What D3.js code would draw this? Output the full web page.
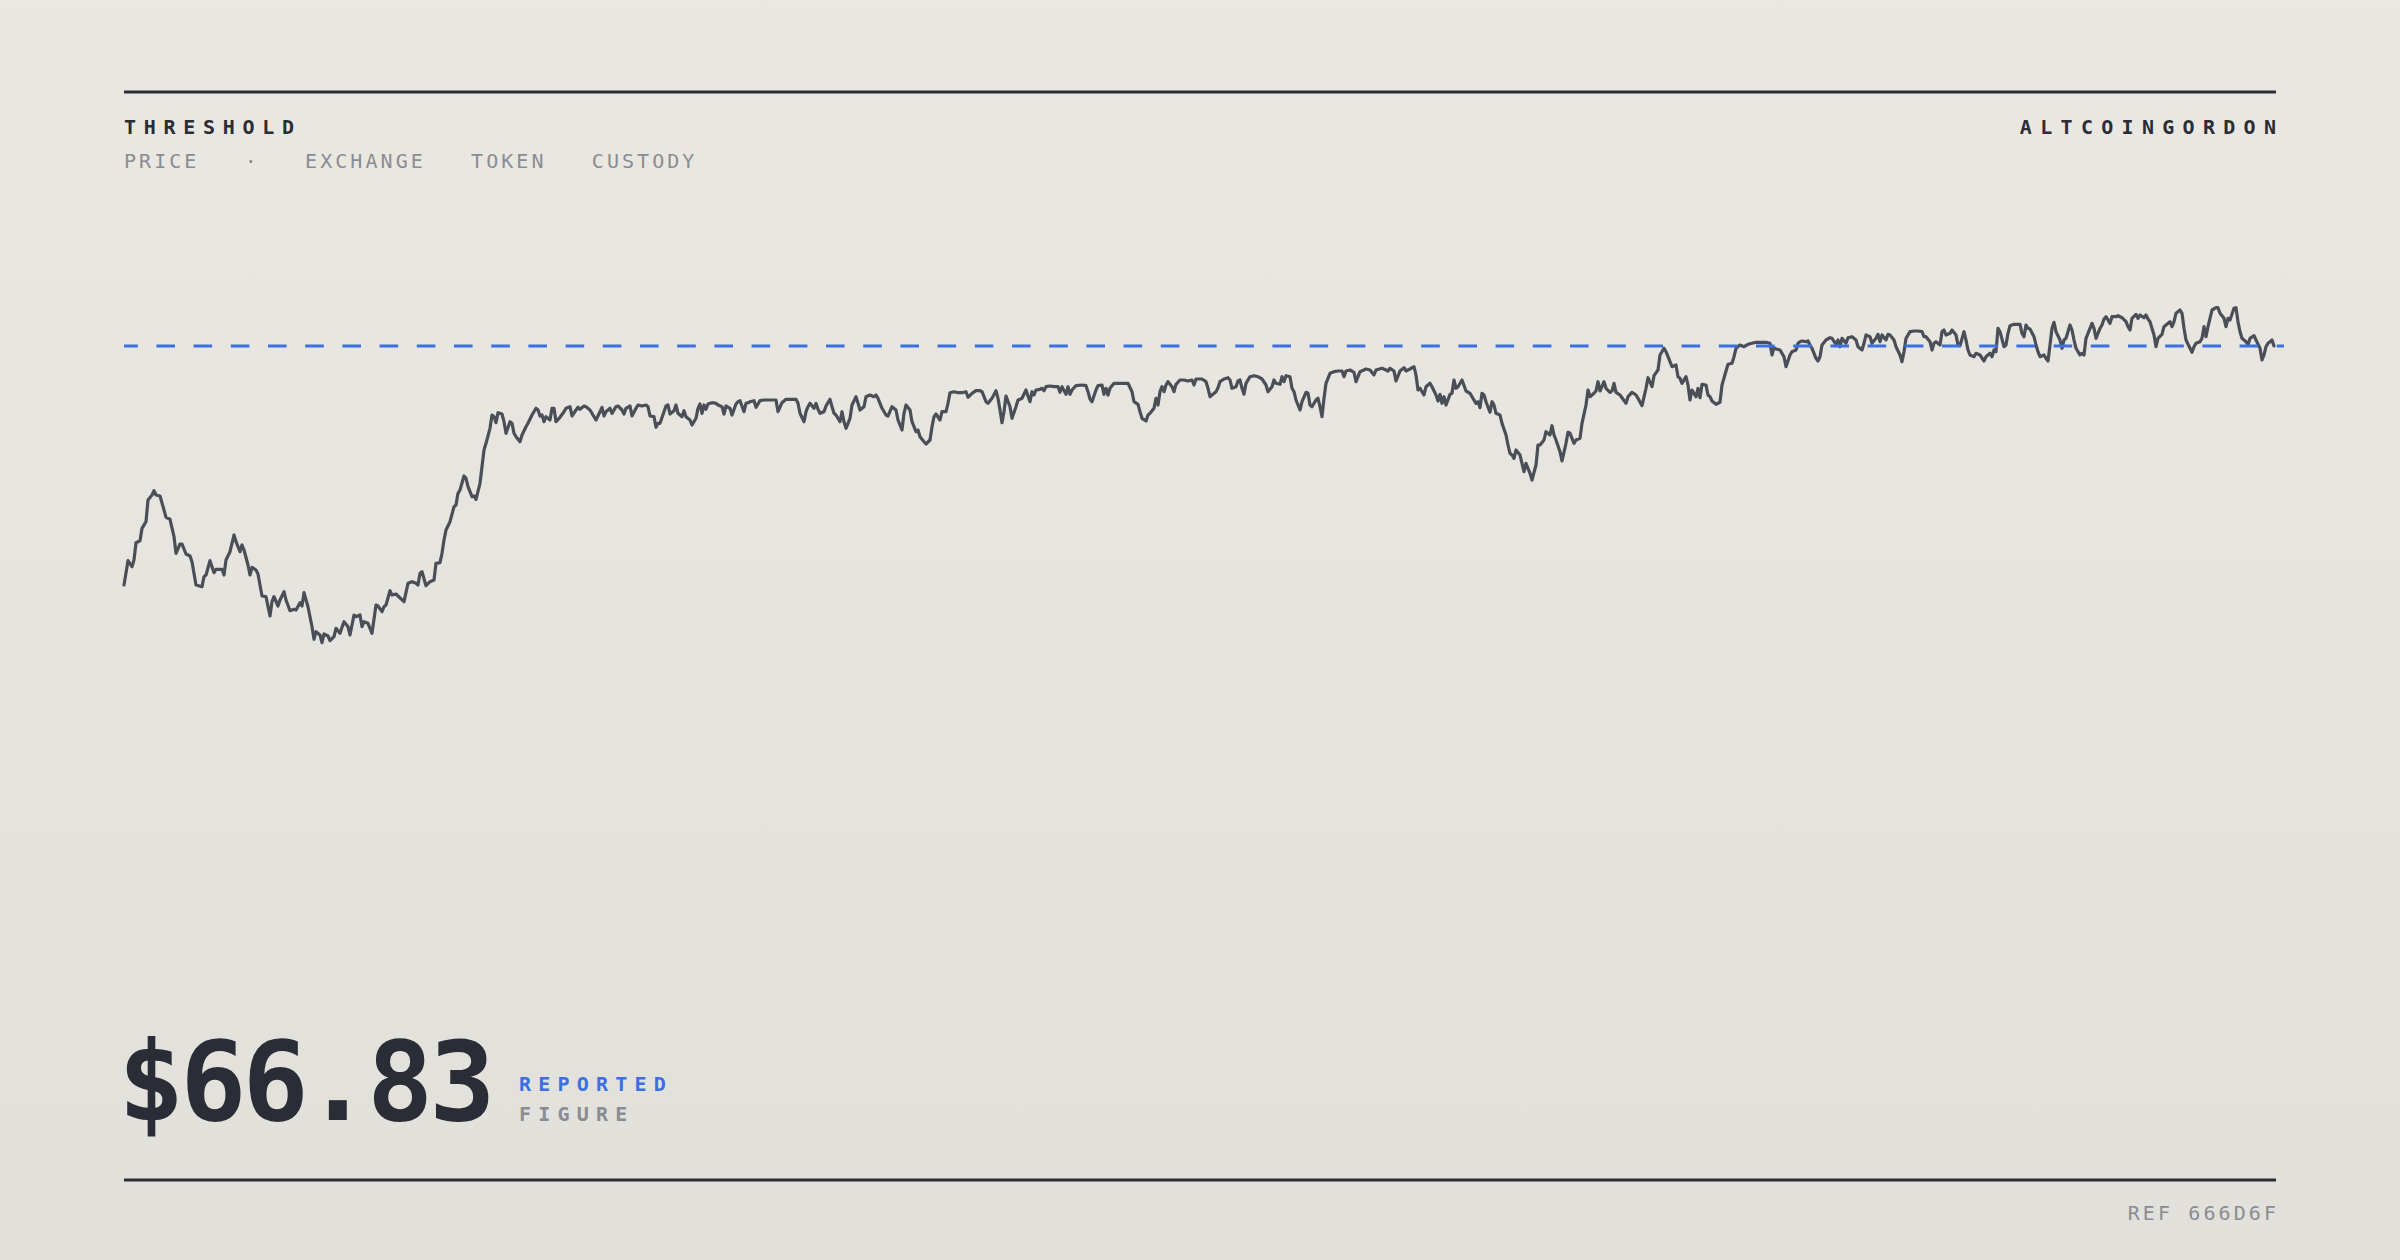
<!DOCTYPE html>
<html>
<head>
<meta charset="utf-8">
<script src="https://cdn.jsdelivr.net/npm/d3@7/dist/d3.min.js"></script>
<style>
  html, body { margin: 0; padding: 0; background: #e6e4de; }
  svg { display: block; }
</style>
</head>
<body>
<svg id="chart" width="2400" height="1260"></svg>
<script>
// header / footer text
const title = "THRESHOLD";
const brand = "ALTCOINGORDON";
const tags = ["PRICE", "·", "EXCHANGE", "TOKEN", "CUSTODY"];
const figureLabels = ["REPORTED", "FIGURE"];
const refCode = "REF 666D6F";

// trading day index of each reading
const days = [
  0,2,4,5,6,8,9,11,12,14,15,16,18,20,21,23,25,26,28,29,31,33,34,36,39,40,41,43,44,45,46,49,50,51,53,55,56,58,59,60,
  62,63,64,66,67,69,71,73,74,75,77,78,80,81,83,85,86,88,89,90,92,94,95,96,98,99,100,102,103,105,106,108,109,110,112,113,115,116,118,119,
  120,122,124,126,127,129,130,131,133,134,136,137,140,142,144,146,147,148,149,151,153,155,
  156,158,159,160,161,163,165,166,167,168,170,171,172,174,175,176,178,179,180,181,183,184,185,186,187,189,190,191,193,194,195,196,198,199,201,202,
  204,206,207,208,209,210,211,213,214,215,216,218,220,221,223,224,226,227,228,230,231,233,235,236,238,239,240,241,243,244,246,247,249,250,251,253,254,256,257,259,
  261,262,263,265,266,267,268,270,271,272,273,275,276,277,279,280,281,283,284,286,287,288,289,290,291,292,294,296,297,299,300,301,303,304,306,307,
  308,310,311,312,313,315,316,318,320,322,325,326,327,329,331,333,336,337,338,340,341,342,343,345,346,347,348,350,351,353,354,355,356,358,359,360,361,363,364,366,
  367,368,370,371,373,375,376,377,379,381,382,384,386,387,389,390,391,393,394,396,397,398,400,401,403,404,405,406,408,409,411,412,413,415,417,419,421,422,424,426,
  428,429,431,432,434,436,437,438,439,440,441,443,444,446,447,448,449,451,452,453,454,455,456,458,459,460,461,463,
  465,467,468,469,471,472,473,474,476,479,481,482,483,484,486,487,489,490,491,492,493,495,497,500,502,504,505,507,508,509,511,512,513,515,516,517,518,519,520,521,
  522,524,525,526,528,530,532,534,535,536,539,541,542,543,544,546,547,548,550,552,553,554,556,557,558,559,560,561,563,565,567,569,571,572,574,575,576,578,579,580,
  581,583,584,585,586,588,589,591,592,593,594,596,597,598,599,600,601,603,605,607,609,610,611,613,615,616,617,
  618,621,623,625,626,629,631,632,633,635,636,638,640,641,643,645,646,647,648,650,651,653,654,656,657,658,659,660,661,663,664,665,666,667,669,671,673,674,676,677,
  678,679,680,681,683,684,685,686,688,689,691,692,693,694,695,696,698,699,700,701,703,704,706,707,708,710,711,713,714,715,716,718,719,721,722,723,725,726,728,729,
  731,732,733,735,736,737,738,740,741,743,744,745,746,748,749,751,752,754,756,757,759,761,762,764,765,767,
  768,770,771,773,774,776,777,778,779,781,782,783,784,786,787,788,789,791,792,793,794,796,798,799,801,802,804,805,806,808,810,812,814,816,819,821,823,824,825,826,
  828,829,830,831,833,834,836,837,838,839,841,842,843,844,846,847,848,849,851,853,854,856,857,858,859,861,862,864,866,867,869,870,871,873,874,876,877,878,879,881,
  882,883,885,886,888,889,890,891,893,895,897,899,900,901,903,904,905,906,908,909,910,911,913,914,916,917,918,920,921,922,
  923,925,926,928,930,931,933,934,935,936,937,938,940,941,942,943,945,946,948,949,950,951,952,953,955,956,957,958,960,961,962,963,964,965,966,968,969,970,971,973,
  974,975,976,978,979,980,981,983,984,985,986,988,989,990,991,993,994,996,997,999,1001,1002,1003,1004,1006,1007,1008,1010,1011,1012,1013,1015,1016,1017,1019,1020,1021,1023,1024,1025,
  1026,1028,1029,1030,1031,1033,1034,1035,1036,1038,1039,1040,1041,1042,1043,1044,1046,1047,1048,1050,1051,1052,1053,1055,1056,1057,1058,1059,1061,1062,1063,1065,1066,1068,1069,1070,1071,1072,1073,1074,
  1075
];

// closing price (USD) for each reading
const closes = [
  42.93,45.36,44.76,45.43,47.16,47.36,48.60,49.26,51.43,51.93,52.36,51.93,51.83,50.43,49.70,49.50,47.76,46.10,47.03,47.03,46.03,45.83,45.26,42.93,42.76,43.76,43.93,45.36,44.76,44.16,44.50,44.50,43.93,45.43,46.26,47.93,47.26,46.26,46.93,46.43,
  44.93,43.93,44.70,44.43,44.03,41.83,41.76,39.83,41.26,41.76,40.83,41.43,42.26,41.43,40.36,40.50,40.43,41.16,40.83,42.16,40.76,38.76,37.50,38.26,37.93,37.16,38.03,37.83,37.36,37.76,38.60,38.10,38.70,39.26,38.76,37.93,39.93,39.76,39.93,38.76,
  39.26,39.10,38.10,40.93,40.83,40.26,40.76,40.93,42.36,41.93,42.03,41.83,41.26,43.10,43.26,43.10,42.93,44.10,44.26,42.86,43.26,43.43,
  45.10,45.16,46.10,47.43,48.43,49.26,50.76,50.93,52.10,52.43,53.83,53.60,52.76,51.76,51.83,51.50,53.10,54.76,56.43,57.10,58.60,59.93,59.76,59.16,60.16,60.03,59.26,58.10,59.26,59.10,58.10,57.76,57.26,57.93,58.76,59.10,
  59.93,60.60,60.43,59.83,59.93,59.26,59.76,59.43,60.60,60.60,59.26,59.70,60.26,60.60,60.76,59.83,60.43,60.70,60.50,60.83,60.76,60.43,59.76,59.43,60.26,60.70,59.83,60.26,60.60,60.10,60.76,60.83,60.43,60.03,60.60,60.83,59.83,60.60,60.93,60.83,
  60.93,60.76,59.83,59.76,58.70,59.10,59.10,60.26,60.83,60.93,60.03,60.36,60.93,60.10,59.76,60.36,59.76,59.43,58.93,59.60,60.60,61.03,60.10,60.93,60.50,61.03,61.16,61.10,60.93,60.76,60.03,60.83,60.60,59.93,61.03,61.26,
  61.36,60.26,61.10,61.16,61.26,61.36,60.70,61.36,61.43,61.43,61.43,61.43,60.26,61.16,61.50,61.50,61.50,61.10,60.10,59.26,60.26,60.76,61.10,60.60,61.10,60.50,60.10,60.26,60.83,61.50,60.76,60.10,59.93,59.26,60.26,59.26,58.60,59.60,60.93,61.76,
  61.10,60.43,60.76,61.76,61.93,61.76,61.93,61.60,60.60,59.93,59.83,60.76,60.43,59.43,58.43,60.10,60.93,60.43,59.26,58.26,58.43,57.76,57.26,57.03,57.43,58.76,59.76,60.03,59.43,60.26,60.26,61.10,62.16,62.26,62.16,62.16,62.26,61.70,62.10,62.36,
  62.36,62.26,61.26,61.10,61.60,62.36,61.60,60.43,59.16,60.26,61.83,60.76,59.60,60.76,61.43,61.50,61.60,62.43,61.83,61.26,62.26,61.93,62.43,62.50,62.60,62.36,62.76,62.83,
  62.76,62.76,62.20,62.76,62.00,62.76,62.00,62.43,62.86,62.93,62.86,62.26,61.53,61.26,62.43,62.86,62.93,62.00,62.60,61.93,62.60,63.10,63.10,63.10,63.10,62.26,61.26,61.00,60.26,59.60,59.33,59.93,60.10,60.60,61.60,60.93,62.26,62.76,62.26,62.93,
  63.26,62.76,62.26,63.00,63.43,63.43,63.33,63.43,62.93,63.53,63.53,63.26,62.60,61.76,61.93,62.26,62.66,63.26,63.53,63.66,63.43,62.60,62.76,63.33,63.43,62.60,62.00,63.10,63.76,63.86,63.76,63.53,62.93,62.26,62.76,63.43,63.10,63.00,63.76,63.26,
  63.86,63.76,62.60,62.26,61.43,60.43,61.26,62.20,62.10,60.93,60.76,61.43,61.60,60.76,59.76,61.60,63.10,64.10,64.26,64.33,64.33,63.76,64.33,64.43,64.20,63.26,63.76,
  64.26,64.53,64.43,63.93,64.43,64.60,64.43,64.33,64.60,64.33,63.33,64.33,64.66,64.33,64.53,64.76,63.93,62.43,62.60,61.93,62.76,63.10,62.76,61.93,61.33,61.99,61.10,61.76,60.93,61.99,62.10,63.43,62.60,62.76,63.43,62.33,62.10,61.76,61.10,61.26,
  60.66,62.10,61.93,61.26,60.20,61.26,60.93,60.10,59.93,59.10,57.93,56.93,56.10,55.93,55.60,56.43,55.93,55.10,54.26,55.10,54.10,53.43,54.93,56.93,56.93,57.43,58.26,57.93,58.86,57.93,57.43,56.26,55.33,57.10,58.20,58.10,57.10,57.43,57.60,59.10,
  60.93,62.43,61.76,62.10,62.33,63.26,62.33,63.26,62.60,62.20,62.33,63.10,62.20,61.93,61.66,61.10,61.76,62.20,61.93,61.60,60.86,62.60,63.66,62.76,63.86,64.43,
  65.93,66.60,66.26,65.26,64.76,64.93,63.76,63.60,63.10,63.76,62.93,61.43,62.43,61.76,62.60,61.66,63.00,62.93,61.93,61.76,61.33,61.00,61.20,62.93,64.33,65.00,65.10,65.76,66.60,66.93,66.76,67.00,67.10,67.20,67.20,67.20,67.10,65.93,66.66,66.53,
  66.43,66.10,65.76,64.76,65.93,66.26,66.43,67.10,67.26,67.33,67.26,67.33,66.93,66.60,65.60,65.33,65.76,66.93,67.43,67.66,67.60,66.99,67.43,66.76,67.60,67.10,67.66,67.76,67.43,66.76,66.43,67.10,67.93,67.76,67.10,67.60,68.00,67.26,67.93,67.43,
  68.00,67.93,67.43,66.76,65.93,65.26,66.26,67.60,68.26,68.33,68.33,68.26,67.76,67.76,67.26,66.43,67.10,67.26,66.93,68.26,68.43,67.93,68.10,68.43,67.93,66.93,66.86,68.26,67.43,66.43,
  65.93,65.76,66.10,65.93,65.33,65.76,66.10,65.76,66.43,66.26,68.60,68.26,66.76,66.93,68.10,68.86,69.00,69.00,69.00,68.10,67.76,68.93,68.60,68.53,67.76,66.93,66.26,65.76,65.93,65.60,65.33,66.93,68.60,69.20,68.26,67.43,66.60,67.43,67.60,68.93,
  68.43,67.43,66.60,65.93,66.10,65.93,67.60,68.60,69.10,68.60,67.60,68.60,68.93,69.53,69.76,69.10,69.76,69.76,69.86,69.66,69.26,68.76,68.43,69.60,69.99,69.60,69.93,69.66,69.93,69.53,69.26,67.93,66.76,67.60,68.00,68.76,68.93,69.26,68.76,69.26,
  70.10,70.43,70.10,68.60,67.43,66.60,66.20,66.76,67.10,67.26,67.60,68.76,67.76,68.76,69.60,70.43,70.66,70.66,70.10,69.60,68.76,69.60,69.43,70.60,70.66,69.26,68.26,67.60,67.26,66.93,67.60,67.86,67.43,66.60,65.43,65.93,66.76,67.10,67.26,67.43,
  66.83
];

const W = 2400, H = 1260;
const left = 124, right = 2276;
const ink = "#2a2d36";
const muted = "#8a8c93";
const blue = "#3b6fe3";
const mono = "'DejaVu Sans Mono', 'Liberation Mono', monospace";

const svg = d3.select("#chart");

// soft paper background
const grad = svg.append("defs").append("linearGradient")
    .attr("id", "bg").attr("x1", 0).attr("y1", 0).attr("x2", 0).attr("y2", 1);
grad.append("stop").attr("offset", "0%").attr("stop-color", "#ebe8e2");
grad.append("stop").attr("offset", "100%").attr("stop-color", "#e1e0db");
svg.append("rect").attr("width", W).attr("height", H).attr("fill", "url(#bg)");

const x = d3.scaleLinear().domain([0, 1076]).range([left, right]);
const y = d3.scaleLinear().domain([30, 80]).range([714.3, 214.3]);

const last = closes[closes.length - 1];
const fmt = d3.format("$.2f");

// rules
svg.append("line").attr("x1", left).attr("x2", right).attr("y1", 92).attr("y2", 92)
    .attr("stroke", ink).attr("stroke-width", 3);
svg.append("line").attr("x1", left).attr("x2", right).attr("y1", 1180).attr("y2", 1180)
    .attr("stroke", ink).attr("stroke-width", 3);

// header
svg.append("text").attr("x", left).attr("y", 134)
    .attr("font-family", mono).attr("font-weight", 700).attr("font-size", 20)
    .attr("letter-spacing", 7.7).attr("fill", ink).text(title);

svg.append("text").attr("x", right + 8.3).attr("y", 134).attr("text-anchor", "end")
    .attr("font-family", mono).attr("font-weight", 700).attr("font-size", 20)
    .attr("letter-spacing", 8.3).attr("fill", ink).text(brand);

svg.append("text").attr("x", left).attr("y", 168)
    .attr("font-family", mono).attr("font-size", 20).attr("letter-spacing", 3.05)
    .attr("fill", muted).style("white-space", "pre")
    .text(tags.join("   "));

// price line
const line = d3.line()
    .x((d, i) => x(days[i]))
    .y(d => y(d));

svg.append("path").datum(closes)
    .attr("d", line)
    .attr("fill", "none")
    .attr("stroke", "#4a4e57")
    .attr("stroke-width", 3.2)
    .attr("stroke-linejoin", "round")
    .attr("stroke-linecap", "round");

// threshold at the reported figure
svg.append("line")
    .attr("x1", left).attr("x2", 2284)
    .attr("y1", y(last)).attr("y2", y(last))
    .attr("stroke", blue).attr("stroke-width", 3)
    .attr("stroke-dasharray", "18.6 18.6").attr("stroke-dashoffset", 4.8);

// big figure
svg.append("text").attr("x", 118).attr("y", 1120)
    .attr("font-family", mono).attr("font-weight", 700).attr("font-size", 110)
    .attr("letter-spacing", -4).attr("fill", ink).text(fmt(last));

svg.append("text").attr("x", 519).attr("y", 1091)
    .attr("font-family", mono).attr("font-weight", 700).attr("font-size", 20)
    .attr("letter-spacing", 7.2).attr("fill", blue).text(figureLabels[0]);
svg.append("text").attr("x", 519).attr("y", 1121)
    .attr("font-family", mono).attr("font-weight", 700).attr("font-size", 20)
    .attr("letter-spacing", 7.2).attr("fill", muted).text(figureLabels[1]);

// footer
svg.append("text").attr("x", right + 3.1).attr("y", 1220).attr("text-anchor", "end")
    .attr("font-family", mono).attr("font-size", 20).attr("letter-spacing", 3.1)
    .attr("fill", muted).text(refCode);
</script>
</body>
</html>
